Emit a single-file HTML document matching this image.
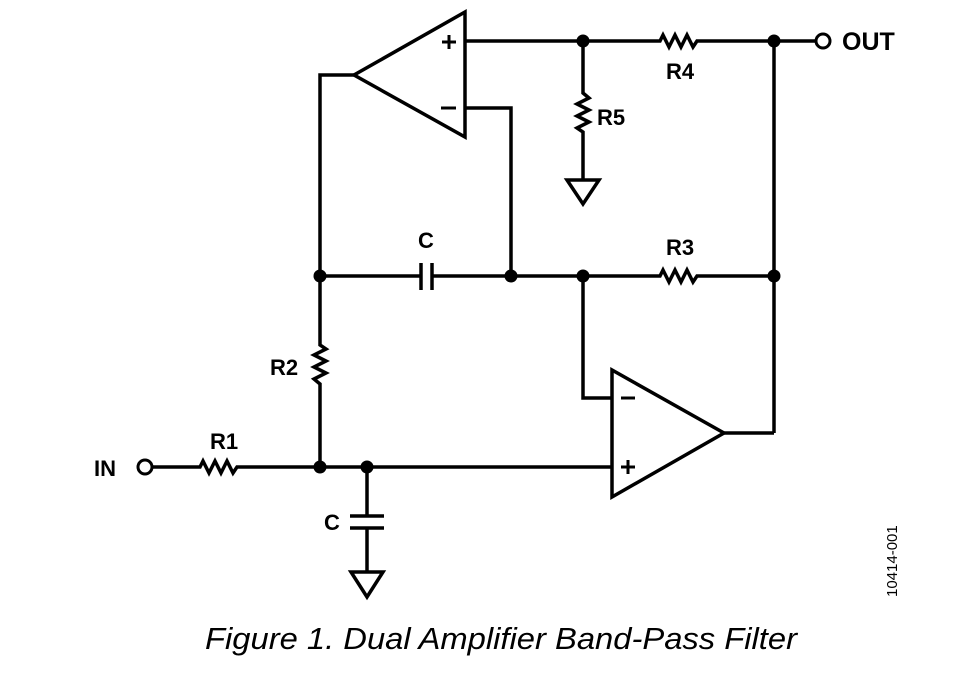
<!DOCTYPE html>
<html><head><style>
html,body{margin:0;padding:0;background:#fff;width:958px;height:692px;overflow:hidden}
svg{display:block}
text{font-family:"Liberation Sans",Arial,sans-serif;font-weight:bold;fill:#000}
</style></head><body>
<svg width="958" height="692" viewBox="0 0 958 692">
<g stroke="#000" stroke-width="3.5" fill="none" stroke-linejoin="miter">
<polygon points="465,12 465,137 354,75" fill="#fff"/>
<line x1="442" y1="42" x2="456" y2="42" stroke-width="3"/><line x1="449" y1="35" x2="449" y2="49" stroke-width="3"/>
<line x1="441" y1="108" x2="456" y2="108" stroke-width="3"/>
<polyline points="465,41 660,41 663,35 669,47 675,35 681,47 687,35 693,47 697,41 822,41"/>
<polyline points="583,41 583,93 589,98 577,104 589,110 577,116 589,122 577,128 583,132 583,180"/>
<polygon points="567,180 599,180 583,204"/>
<polyline points="465,108 511,108 511,276"/>
<polyline points="354,75 320,75 320,345 326,349 314,355 326,361 314,367 326,373 314,379 320,384 320,467"/>
<line x1="320" y1="276" x2="421" y2="276"/>
<line x1="421" y1="263" x2="421" y2="290"/>
<line x1="432" y1="263" x2="432" y2="290"/>
<polyline points="432,276 660,276 663,270 669,282 675,270 681,282 687,270 693,282 697,276 774,276"/>
<line x1="774" y1="41" x2="774" y2="433"/>
<polygon points="612,370 612,497 724,433" fill="#fff"/>
<line x1="621" y1="398" x2="635" y2="398" stroke-width="3"/>
<line x1="621" y1="467" x2="635" y2="467" stroke-width="3"/><line x1="628" y1="460" x2="628" y2="474" stroke-width="3"/>
<polyline points="583,276 583,398 612,398"/>
<polyline points="724,433 774,433"/>
<polyline points="153,467 200,467 203,461 209,473 215,461 221,473 227,461 233,473 237,467 612,467"/>
<polyline points="367,467 367,517"/>
<line x1="350" y1="516" x2="384" y2="516"/>
<line x1="350" y1="528" x2="384" y2="528"/>
<line x1="367" y1="528" x2="367" y2="572"/>
<polygon points="351,572 383,572 367,597"/>
<circle cx="145" cy="467" r="7" fill="#fff" stroke-width="3"/>
<circle cx="823" cy="41" r="7" fill="#fff" stroke-width="3"/>
</g>
<g fill="#000">
<circle cx="583" cy="41" r="6.5"/><circle cx="774" cy="41" r="6.5"/>
<circle cx="320" cy="276" r="6.5"/><circle cx="511" cy="276" r="6.5"/><circle cx="583" cy="276" r="6.5"/><circle cx="774" cy="276" r="6.5"/>
<circle cx="320" cy="467" r="6.5"/><circle cx="367" cy="467" r="6.5"/>
</g>
<text x="680" y="79" font-size="22" text-anchor="middle">R4</text>
<text x="597" y="125" font-size="22">R5</text>
<text x="426" y="248" font-size="22" text-anchor="middle">C</text>
<text x="680" y="255" font-size="22" text-anchor="middle">R3</text>
<text x="270" y="375" font-size="22">R2</text>
<text x="224" y="449" font-size="22" text-anchor="middle">R1</text>
<text x="324" y="530" font-size="22">C</text>
<text x="94" y="476" font-size="22">IN</text>
<text x="842" y="50" font-size="25">OUT</text>
<text transform="translate(897,597) rotate(-90)" font-size="15" style="font-weight:normal">10414-001</text>
<text x="205" y="649" font-size="31" font-style="italic" textLength="592" lengthAdjust="spacingAndGlyphs" style="font-weight:normal">Figure 1. Dual Amplifier Band-Pass Filter</text>
</svg>
</body></html>
